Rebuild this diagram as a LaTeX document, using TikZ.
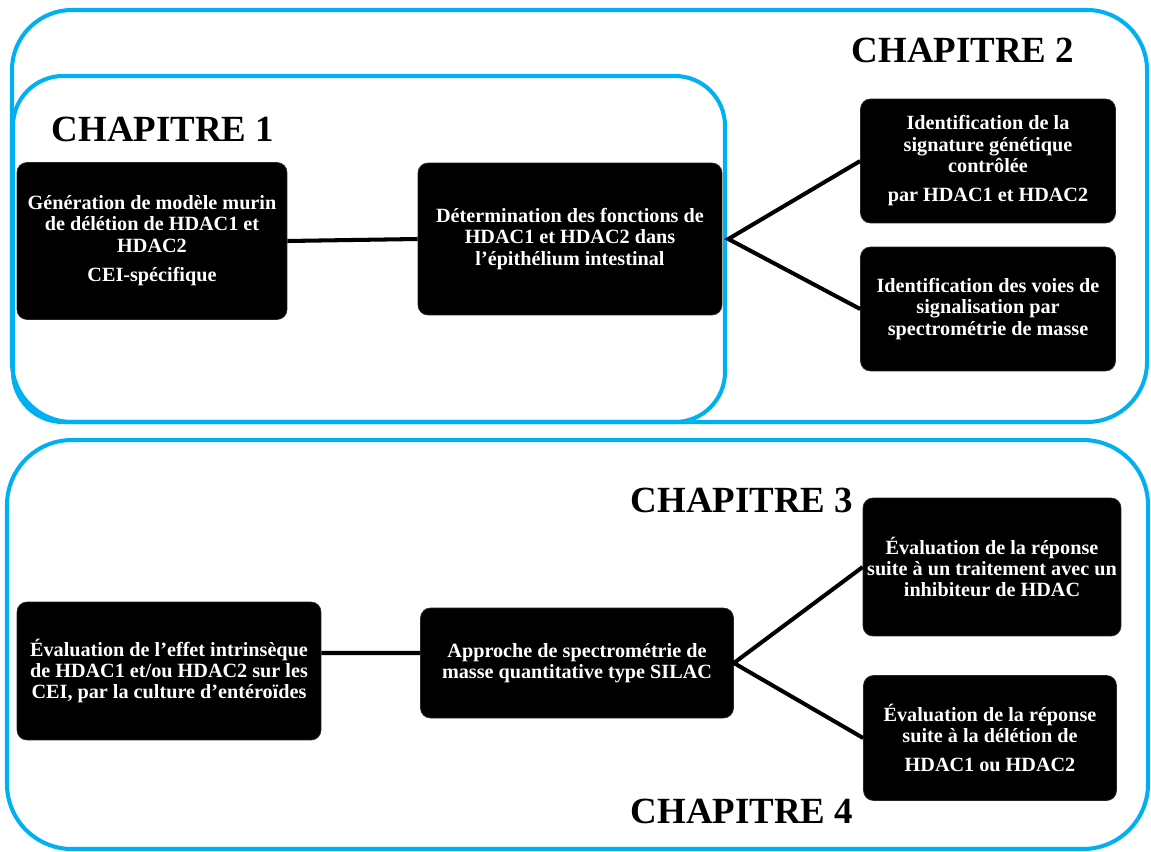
\documentclass[tikz,border=0pt]{standalone}
\usepackage{fontspec}
\setmainfont{Liberation Serif}
\usepackage{tikz}
\usetikzlibrary{positioning}
\definecolor{frameblue}{RGB}{0,176,240}

\begin{document}
\begin{tikzpicture}[
  x=0.02cm, y=-0.02cm,
  frame/.style={draw=frameblue, line width=2.3pt, rounded corners=1.2cm},
  task/.style={fill=black, draw=black!85, rounded corners=0.2cm, text=white, align=center,
    inner sep=1pt, font=\bfseries\fontsize{11.5}{12}\selectfont},
  title/.style={font=\bfseries\fontsize{21}{24}\selectfont},
  link/.style={line width=2.3pt},
]
\useasboundingbox (0,0) rectangle (1151,851);
% Frames
\draw[frame] (12,10) rectangle (1147,422);
\draw[frame, rounded corners=1cm] (13,76) rectangle (725,422);
\draw[frame, rounded corners=1.3cm] (7,440) rectangle (1148,849);
% Titles
\node[title] (ch1) at (163,129) {CHAPITRE 1};
\node[title] (ch2) at (963,50) {CHAPITRE 2};
\node[title] (ch3) at (742,500) {CHAPITRE 3};
\node[title] (ch4) at (742,811) {CHAPITRE 4};
% Chapitres 1 et 2
\node[task, minimum width=5.4cm, minimum height=3.14cm] (gen) at (152,241)
  {Génération de modèle murin\\de délétion de HDAC1 et\\HDAC2\\[5pt]CEI-spécifique};
\node[task, minimum width=6.08cm, minimum height=3.04cm] (fonc) at (570,239)
  {Détermination des fonctions de\\HDAC1 et HDAC2 dans\\l’épithélium intestinal};
\node[task, minimum width=5.1cm, minimum height=2.48cm] (sign) at (988,161)
  {Identification de la\\signature génétique\\contrôlée\\[5pt]par HDAC1 et HDAC2};
\node[task, minimum width=5.1cm, minimum height=2.48cm] (voies) at (988,309)
  {Identification des voies de\\signalisation par\\spectrométrie de masse};
% Chapitres 3 et 4
\node[task, minimum width=6.08cm, minimum height=2.76cm] (effet) at (169,671)
  {Évaluation de l’effet intrinsèque\\de HDAC1 et/ou HDAC2 sur les\\CEI, par la culture d’entéroïdes};
\node[task, minimum width=6.26cm, minimum height=2.2cm] (silac) at (577,663)
  {Approche de spectrométrie de\\masse quantitative type SILAC};
\node[task, minimum width=5.16cm, minimum height=2.76cm] (trait) at (992,567)
  {Évaluation de la réponse\\suite à un traitement avec un\\inhibiteur de HDAC};
\node[task, minimum width=5.06cm, minimum height=2.5cm] (delet) at (990,738)
  {Évaluation de la réponse\\suite à la délétion de\\[4.5pt]HDAC1 ou HDAC2};
% Links
\draw[link] (gen.east) -- (fonc.west);
\draw[link] (sign.west) -- ([xshift=0.12cm]fonc.east) -- (voies.west);
\draw[link] ([yshift=0.36cm]effet.east) -- ([yshift=0.2cm]silac.west);
\draw[link] (trait.west) -- (silac.east) -- (delet.west);
\end{tikzpicture}
\end{document}
